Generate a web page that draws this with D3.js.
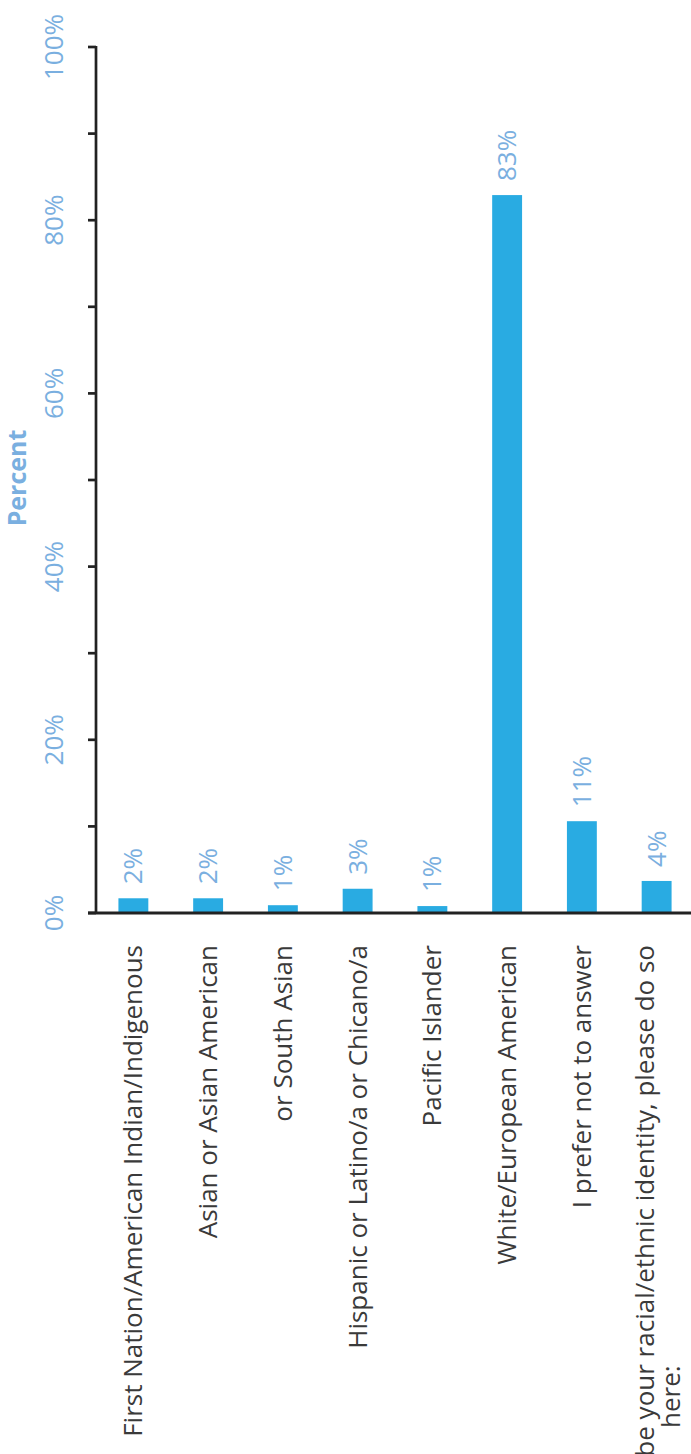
<!DOCTYPE html>
<html>
<head>
<meta charset="utf-8">
<script src="https://cdn.jsdelivr.net/npm/d3@7"></script>
<style>
  body { margin: 0; background: #fff; }
  text { font-family: "Open Sans", sans-serif; }
</style>
</head>
<body>
<svg id="chart"></svg>
<script>
// survey categories (second line used only where the label wraps)
var categories = ["First Nation/American Indian/Indigenous", "Asian or Asian American", "or South Asian",
    "Hispanic or Latino/a or Chicano/a", "Pacific Islander", "White/European American",
    "I prefer not to answer", "If you would prefer to self-describe your racial/ethnic identity, please do so"];
var secondLines = ["", "", "", "", "", "", "", "here:"];
var values = [1.7, 1.7, 0.9, 2.8, 0.8, 82.9, 10.6, 3.7];
var yTicks = [0, 10, 20, 30, 40, 50, 60, 70, 80, 90, 100];
var yTickLabels = [0, 20, 40, 60, 80, 100];

var width = 691, height = 1454;
var axisX = 96, baseY = 913, topY = 47;
var barColor = "#29abe2", lightBlue = "#7aafe0", axisColor = "#222";
var fs = 26;

var svg = d3.select("#chart")
    .attr("width", width)
    .attr("height", height);

var x = d3.scaleBand()
    .domain(categories)
    .range([axisX, 694])
    .paddingInner(0.6)
    .paddingOuter(0.3);

var y = d3.scaleLinear()
    .domain([0, 100])
    .range([baseY, topY]);

// bars
svg.append("g")
    .selectAll("rect")
    .data(values)
    .enter()
    .append("rect")
    .attr("x", function(d, i) { return x(categories[i]); })
    .attr("y", function(d) { return y(d); })
    .attr("width", x.bandwidth())
    .attr("height", function(d) { return baseY - y(d); })
    .attr("fill", barColor);

// y axis line + ticks
svg.append("line")
    .attr("x1", axisX).attr("x2", axisX)
    .attr("y1", y(100) - 1).attr("y2", baseY)
    .attr("stroke", axisColor).attr("stroke-width", 2.7);

svg.append("g")
    .selectAll("line")
    .data(yTicks)
    .enter()
    .append("line")
    .attr("x1", 88).attr("x2", axisX)
    .attr("y1", function(d) { return y(d); })
    .attr("y2", function(d) { return y(d); })
    .attr("stroke", axisColor).attr("stroke-width", 2.7);

svg.append("g")
    .selectAll("text")
    .data(yTickLabels)
    .enter()
    .append("text")
    .attr("transform", function(d) { return "translate(63," + y(d) + ") rotate(-90)"; })
    .attr("text-anchor", "middle")
    .attr("font-size", fs)
    .attr("fill", lightBlue)
    .text(function(d) { return d + "%"; });

svg.append("text")
    .attr("transform", "translate(26,478) rotate(-90)")
    .attr("text-anchor", "middle")
    .attr("font-size", 25)
    .attr("font-weight", "bold")
    .attr("fill", lightBlue)
    .text("Percent");

// x axis line
svg.append("line")
    .attr("x1", 88).attr("x2", width)
    .attr("y1", baseY).attr("y2", baseY)
    .attr("stroke", axisColor).attr("stroke-width", 3);

// data labels
svg.append("g")
    .selectAll("text")
    .data(values)
    .enter()
    .append("text")
    .attr("transform", function(d, i) {
        return "translate(" + (x(categories[i]) + x.bandwidth() / 2 + 9) + "," + (y(d) - 14) + ") rotate(-90)";
    })
    .attr("font-size", fs)
    .attr("fill", lightBlue)
    .text(function(d) { return Math.round(d) + "%"; });

// category labels
var catG = svg.append("g")
    .selectAll("g")
    .data(categories)
    .enter()
    .append("g");

catG.append("text")
    .attr("transform", function(d, i) {
        var dx = secondLines[i] ? -12 : 0;
        return "translate(" + (x(d) + x.bandwidth() / 2 + 9 + dx) + ",945) rotate(-90)";
    })
    .attr("text-anchor", "end")
    .attr("font-size", fs)
    .attr("fill", "#3a3a3a")
    .text(function(d) { return d; });

// wrapped second line, centred under the first one
catG.filter(function(d, i) { return secondLines[i]; })
    .append("text")
    .attr("transform", function(d, i) {
        var first = this.parentNode.firstChild.getComputedTextLength();
        var cx = x(d) + x.bandwidth() / 2 + 9 + 14;
        return "translate(" + cx + "," + (945 + first / 2) + ") rotate(-90)";
    })
    .attr("text-anchor", "middle")
    .attr("font-size", fs)
    .attr("fill", "#3a3a3a")
    .text(function(d) { return secondLines[categories.indexOf(d)]; });
</script>
</body>
</html>
